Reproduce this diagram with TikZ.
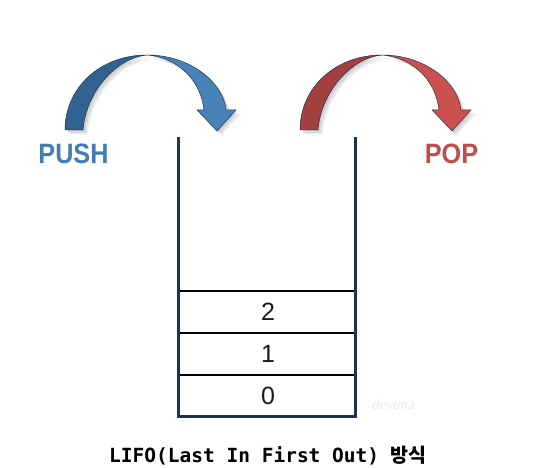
\documentclass[tikz,border=0pt]{standalone}
\usepackage{fontspec}
\newfontfamily\labelfont{Liberation Sans}
\newfontfamily\codefont{DejaVu Sans Mono}
\newfontfamily\krfont{Noto Sans CJK KR}
\usepackage{xcolor}
\definecolor{pushdark}{HTML}{32628F}
\definecolor{pushlight}{HTML}{4883B8}
\definecolor{popdark}{HTML}{A1403F}
\definecolor{poplight}{HTML}{CB514F}
\definecolor{wallnavy}{HTML}{1E3152}
\definecolor{edgenavy}{HTML}{22344F}
\usetikzlibrary{positioning}
\tikzset{
  every picture/.style={line join=round},
  wall/.style={wallnavy, line width=3pt, line join=miter},
  divider/.style={black, line width=1.8pt},
  digit/.style={font=\labelfont\fontsize{25}{25}\selectfont, text=black!90},
  oplbl/.style={font=\labelfont\bfseries\fontsize{28}{28}\selectfont, xscale=0.9},
  bandedge/.style={draw=edgenavy, line width=0.5pt},
}

\begin{document}
\begin{tikzpicture}[x=1pt, y=-1pt]
% outline of one bent arrow, outer edge first
\newcommand{\bentpath}{(65,130) .. controls (65,88) and (100,55) .. (147,55)
  .. controls (190,55) and (223,82) .. (226,110) -- (236,110) -- (217,131)
  -- (197,110) -- (204,110) .. controls (201,82) and (180,58) .. (147,55)
  .. controls (116,58) and (86,92) .. (83,130) -- cycle}
% a bent arrow: #1 = shift, #2 = left half, #3 = right half
\newcommand{\bentarrow}[3]{%
  \begin{scope}[shift={#1}]
  \foreach \dd in {1.5,3,4.5}
    \fill[black, opacity=0.07, shift={(\dd,\dd)}] \bentpath;
  \fill[#2, bandedge] (65,130) .. controls (65,88) and (100,55) .. (147,55)
    .. controls (116,58) and (86,92) .. (83,130) -- cycle;
  \fill[#3, bandedge] (147,55) .. controls (190,55) and (223,82) .. (226,110)
    -- (236,110) -- (217,131) -- (197,110) -- (204,110)
    .. controls (201,82) and (180,58) .. (147,55) -- cycle;
  \end{scope}}

\useasboundingbox (0,0) rectangle (544,468);
\fill[white] (0,0) rectangle (544,468);

% ------------------------------------------------------------------ arrows
\bentarrow{(0,0)}{pushdark}{pushlight}
\bentarrow{(235,0)}{popdark}{poplight}

\node[oplbl, text=pushlight!95!black] (push) at (73.5,153.5) {PUSH};
\node[oplbl, text=poplight!95!black] (pop) at (451.5,154) {POP};

% ------------------------------------------------------------------ stack
\draw[divider] (178,291) -- (355,291);
\draw[divider] (178,333) -- (355,333);
\draw[divider] (178,375) -- (355,375);
\draw[wall] (178,137) -- (178,416) -- (355,416) -- (355,137);

\node[digit] (d2) at (268,312) {2};
\node[digit] (d1) at (268,354) {1};
\node[digit] (d0) at (268,395.5) {0};

\node[font=\sffamily\itshape\fontsize{15}{15}\selectfont, text=black!8]
  (mark) at (393,404) {devuna};

% ------------------------------------------------------------------ caption
\node[anchor=base, font=\codefont\bfseries\fontsize{19.5}{20}\selectfont, text=black]
  (caption) at (268,462) {LIFO(Last In First Out) {\krfont\bfseries 방식}};
\end{tikzpicture}
\end{document}
